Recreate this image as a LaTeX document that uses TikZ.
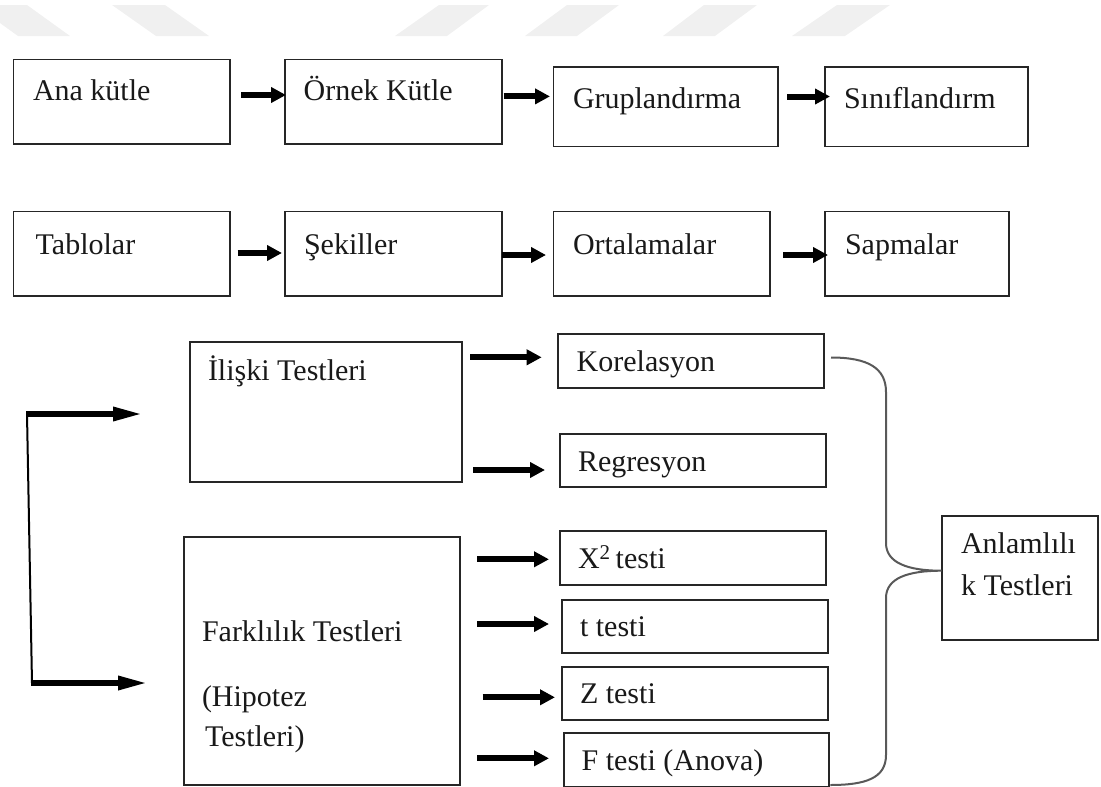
\documentclass[tikz,border=0pt]{standalone}
\usepackage{fontspec}
\setmainfont{Liberation Serif}
\usetikzlibrary{arrows.meta,calc}
\begin{document}
\begin{tikzpicture}[x=1pt,y=-1pt,
  box/.style={draw=black!85,line width=1.7pt,rectangle,inner sep=0pt,outer sep=0pt,anchor=north west},
  txt/.style={anchor=base west,inner sep=0pt,outer sep=0pt,font=\fontsize{30pt}{41pt}\selectfont,text=black!90},
  arr/.style={line width=6pt,-{Triangle[length=15pt,width=15pt]}},
  barr/.style={line width=6pt,-{Triangle[length=30pt,width=13pt]}},
  thinline/.style={line width=2pt},
  brace/.style={draw=black!65,line width=2pt},
  wm/.style={fill=black!6,draw=none}]
\useasboundingbox (0,0) rectangle (1101,787);
% watermark stripes
\begin{scope}
\clip (0,0) rectangle (1101,787);
\fill[wm] (-25,5) -- (27,5) -- (70,36) -- (18,36) -- cycle;
\fill[wm] (112,5) -- (165,5) -- (209,36) -- (156,36) -- cycle;
\fill[wm] (439,5) -- (489,5) -- (447,36) -- (395,36) -- cycle;
\fill[wm] (567,5) -- (619,5) -- (577,36) -- (525,36) -- cycle;
\fill[wm] (704,5) -- (757,5) -- (715,36) -- (663,36) -- cycle;
\fill[wm] (837,5) -- (890,5) -- (845,36) -- (792,36) -- cycle;
\end{scope}
% row 1
\node[box,minimum width=216.4pt,minimum height=84.4pt] (ana) at (13.6,59.6) {};
\node[box,minimum width=217pt,minimum height=84.4pt] (ornek) at (285,59.6) {};
\node[box,minimum width=224.4pt,minimum height=79.4pt] (grup) at (553.6,67.2) {};
\node[box,minimum width=203pt,minimum height=79.4pt] (sinif) at (825,67.2) {};
\node[txt] (anaT) at (33,100) {Ana kütle};
\node[txt] (ornekT) at (303.6,100) {Örnek Kütle};
\node[txt] (grupT) at (573,108) {Gruplandırma};
\node[txt] (sinifT) at (844,108) {Sınıflandırm};
\draw[arr] ($(ana.east|-0,95)+(11,0)$) -- ($(ornek.west|-0,95)+(1,0)$);
\draw[arr] ($(ornek.east|-0,96.4)+(1.6,0)$) -- ($(grup.west|-0,96.4)+(-3.6,0)$);
\draw[arr] ($(grup.east|-0,96.5)+(9,0)$) -- ($(sinif.west|-0,96.5)+(5,0)$);
% row 2
\node[box,minimum width=216.4pt,minimum height=84.6pt] (tablo) at (13.6,211.4) {};
\node[box,minimum width=217pt,minimum height=84.6pt] (sekil) at (285,211.4) {};
\node[box,minimum width=216.4pt,minimum height=84.5pt] (orta) at (553.6,211.5) {};
\node[box,minimum width=183.7pt,minimum height=84.5pt] (sapma) at (825,211.5) {};
\node[txt] (tabloT) at (35.7,254) {Tablolar};
\node[txt] (sekilT) at (304,254) {Şekiller};
\node[txt] (ortaT) at (573,254) {Ortalamalar};
\node[txt] (sapmaT) at (845,254) {Sapmalar};
\draw[arr] ($(tablo.east|-0,253)+(7.5,0)$) -- ($(sekil.west|-0,253)+(-3,0)$);
\draw[arr] ($(sekil.east|-0,255)+(0,0)$) -- ($(orta.west|-0,255)+(-7.6,0)$);
\draw[arr] ($(orta.east|-0,255)+(13,0)$) -- ($(sapma.west|-0,255)+(3,0)$);
% lower part boxes
\node[box,minimum width=271.7pt,minimum height=139.4pt] (iliski) at (190,342.3) {};
\node[box,minimum width=276pt,minimum height=248pt] (fark) at (184,537) {};
\node[box,minimum width=265.7pt,minimum height=54pt] (kor) at (558.3,334.3) {};
\node[box,minimum width=265.7pt,minimum height=53.3pt] (reg) at (560,434) {};
\node[box,minimum width=265.7pt,minimum height=54pt] (chi) at (560,531) {};
\node[box,minimum width=265.4pt,minimum height=53.3pt] (tt) at (562.3,600) {};
\node[box,minimum width=265.4pt,minimum height=53.3pt] (zt) at (562.3,666.7) {};
\node[box,minimum width=265.3pt,minimum height=53.2pt] (ft) at (564,733.3) {};
\node[box,minimum width=156.6pt,minimum height=124pt] (anlam) at (941.7,516) {};
\node[txt] (iliskiT) at (208,380) {İlişki Testleri};
\node[txt] (farkT) at (202,641.7) {Farklılık Testleri};
\node[txt] (hipT) at (202,706.7) {(Hipotez};
\node[txt] (hipT2) at (205,746.7) {Testleri)};
\node[txt] (korT) at (576.7,371.7) {Korelasyon};
\node[txt] (regT) at (578,471) {Regresyon};
\node[txt] (chiT) at (578,568.3) {X\textsuperscript{2}\,testi};
\node[txt] (ttT) at (580,636.7) {t testi};
\node[txt] (ztT) at (580,703.3) {Z testi};
\node[txt] (ftT) at (581.7,770) {F testi (Anova)};
\node[txt] (anlamT) at (961,553.3) {Anlamlılı};
\node[txt] (anlamT2) at (961,595) {k Testleri};
% arrows from test groups
\draw[arr] ($(iliski.east|-0,357.3)+(8.3,0)$) -- ($(kor.west|-0,357.3)+(-16.6,0)$);
\draw[arr] ($(iliski.east|-0,470)+(11.3,0)$) -- ($(reg.west|-0,470)+(-15,0)$);
\draw[arr] ($(fark.east|-0,559.3)+(17,0)$) -- ($(chi.west|-0,559.3)+(-11,0)$);
\draw[arr] ($(fark.east|-0,624)+(17,0)$) -- ($(tt.west|-0,624)+(-13.3,0)$);
\draw[arr] ($(fark.east|-0,697.3)+(22.7,0)$) -- ($(zt.west|-0,697.3)+(-7.3,0)$);
\draw[arr] ($(fark.east|-0,758.3)+(17,0)$) -- ($(ft.west|-0,758.3)+(-15,0)$);
% left bracket
\coordinate (bt) at (27,414);
\coordinate (bb) at (32,683);
\coordinate (bte) at (143,414);
\coordinate (bbe) at (148,683);
\draw[thinline] (bt) -- (bb);
\draw[barr] ($(bt)+(-1,0)$) -- (bte);
\draw[barr] ($(bb)+(-1,0)$) -- (bbe);
% brace
\draw[brace] ($(kor.east|-0,357.5)+(7,0)$) .. controls (868,357.5) and (886,368) .. (886,392)
  -- (886,543) .. controls (886,563) and (908,570.7) .. (anlam.west|-0,570.7)
  .. controls (908,570.7) and (886,578) .. (886,598)
  -- (886,755) .. controls (886,778) and (866,785) .. ($(ft.east|-0,785)+(1,0)$);
\end{tikzpicture}
\end{document}
